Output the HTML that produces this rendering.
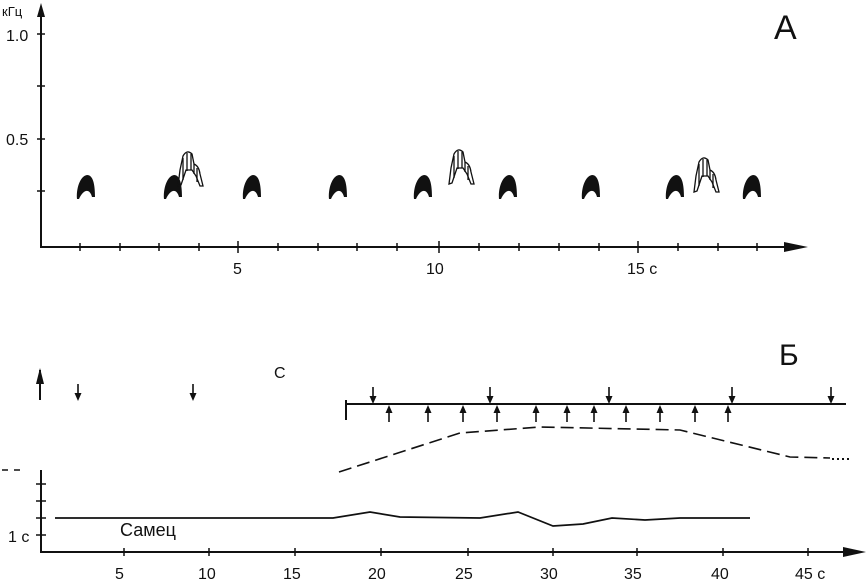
<!DOCTYPE html>
<html><head><meta charset="utf-8"><style>
html,body{margin:0;padding:0;background:#fff;}
svg{display:block;}
text{font-family:"Liberation Sans",sans-serif;fill:#111;}
</style></head><body>
<svg width="867" height="581" viewBox="0 0 867 581" xmlns="http://www.w3.org/2000/svg">
<defs>
<path id="blob" d="M-9,12 C-10,2 -6,-11 1,-12 C7,-12 9,-3 9,10 L6,10 C4,2 -2,1 -7,12 Z" fill="#111"/>
<g id="hatch" fill="none" stroke="#111" stroke-width="1.3">
<path d="M-12,18 L-10,2 L-7,-12 Q-3,-19 2,-14 L4,-4 Q9,-2 10,6 L13,18 L10,18 L6,8 L2,2 L-4,2 L-9,17 Z"/>
<path d="M-7,-10 L-7,12 M-3,-15 L-3,3 M1,-14 L1,2 M4,-4 L4,6 M7,0 L7,14"/>
</g>
<g id="ad"><line x1="0" y1="-17" x2="0" y2="-4" stroke="#111" stroke-width="1.6"/><polygon points="0,0 -3.5,-8 3.5,-8" fill="#111"/></g>
<g id="au"><line x1="0" y1="17" x2="0" y2="4" stroke="#111" stroke-width="1.6"/><polygon points="0,0 -3.5,8 3.5,8" fill="#111"/></g>
</defs>
<!-- Panel A -->
<g stroke="#111" stroke-width="2" fill="none">
<line x1="41" y1="12" x2="41" y2="248"/>
<line x1="40" y1="247" x2="790" y2="247"/>
</g>
<polygon points="41,3 37,17 45,17" fill="#111"/>
<polygon points="808,247 784,242 784,252" fill="#111"/>
<g stroke="#111" stroke-width="1.5">
<line x1="37" y1="34" x2="45" y2="34"/><line x1="37" y1="86" x2="45" y2="86"/>
<line x1="37" y1="139" x2="45" y2="139"/><line x1="37" y1="191" x2="45" y2="191"/>
<line x1="80" y1="243" x2="80" y2="251"/><line x1="120" y1="243" x2="120" y2="251"/>
<line x1="159" y1="243" x2="159" y2="251"/><line x1="199" y1="243" x2="199" y2="251"/>
<line x1="238" y1="241" x2="238" y2="253"/><line x1="278" y1="243" x2="278" y2="251"/>
<line x1="318" y1="243" x2="318" y2="251"/><line x1="357" y1="243" x2="357" y2="251"/>
<line x1="397" y1="243" x2="397" y2="251"/><line x1="439" y1="241" x2="439" y2="253"/>
<line x1="479" y1="243" x2="479" y2="251"/><line x1="519" y1="243" x2="519" y2="251"/>
<line x1="559" y1="243" x2="559" y2="251"/><line x1="599" y1="243" x2="599" y2="251"/>
<line x1="638" y1="241" x2="638" y2="253"/><line x1="678" y1="243" x2="678" y2="251"/>
<line x1="718" y1="243" x2="718" y2="251"/><line x1="757" y1="243" x2="757" y2="251"/>
</g>
<text x="2" y="16" font-size="13">кГц</text>
<text x="6" y="41" font-size="16">1.0</text>
<text x="6" y="145" font-size="16">0.5</text>
<text x="233" y="274" font-size="16">5</text>
<text x="426" y="274" font-size="16">10</text>
<text x="627" y="274" font-size="16">15 с</text>
<text x="774" y="39" font-size="34">А</text>
<use href="#blob" x="86" y="187"/><use href="#blob" x="173" y="187"/>
<use href="#blob" x="252" y="187"/><use href="#blob" x="338" y="187"/>
<use href="#blob" x="423" y="187"/><use href="#blob" x="508" y="187"/>
<use href="#blob" x="591" y="187"/><use href="#blob" x="675" y="187"/>
<use href="#blob" x="752" y="187"/>
<use href="#hatch" x="190" y="168"/><use href="#hatch" x="461" y="166"/><use href="#hatch" x="706" y="174"/>

<!-- Panel B -->
<text x="779" y="365" font-size="30">Б</text>
<g stroke="#111" stroke-width="2" fill="none">
<line x1="41" y1="470" x2="41" y2="553"/>
<line x1="40" y1="552" x2="850" y2="552"/>
<line x1="346" y1="404" x2="846" y2="404"/>
<line x1="346" y1="400" x2="346" y2="420"/>
</g>
<polygon points="866,552 843,547 843,557" fill="#111"/>
<g stroke="#111" stroke-width="1.5">
<line x1="36" y1="484" x2="46" y2="484"/><line x1="36" y1="501" x2="46" y2="501"/>
<line x1="36" y1="518" x2="46" y2="518"/><line x1="36" y1="535" x2="46" y2="535"/>
<line x1="124" y1="548" x2="124" y2="556"/><line x1="209" y1="548" x2="209" y2="556"/>
<line x1="295" y1="548" x2="295" y2="556"/><line x1="381" y1="548" x2="381" y2="556"/>
<line x1="468" y1="548" x2="468" y2="556"/><line x1="553" y1="548" x2="553" y2="556"/>
<line x1="637" y1="548" x2="637" y2="556"/><line x1="723" y1="548" x2="723" y2="556"/>
<line x1="808" y1="548" x2="808" y2="556"/>
</g>
<text x="115" y="579" font-size="16">5</text>
<text x="198" y="579" font-size="16">10</text>
<text x="283" y="579" font-size="16">15</text>
<text x="368" y="579" font-size="16">20</text>
<text x="455" y="579" font-size="16">25</text>
<text x="540" y="579" font-size="16">30</text>
<text x="624" y="579" font-size="16">35</text>
<text x="711" y="579" font-size="16">40</text>
<text x="795" y="579" font-size="16">45 с</text>
<text x="8" y="542" font-size="16">1 с</text>
<text x="120" y="536" font-size="18">Самец</text>
<text x="274" y="378" font-size="16">С</text>
<use href="#ad" x="78" y="401"/><use href="#ad" x="193" y="401"/>
<use href="#ad" x="373" y="404"/><use href="#ad" x="490" y="404"/>
<use href="#ad" x="609" y="404"/><use href="#ad" x="732" y="404"/><use href="#ad" x="831" y="404"/>
<use href="#au" x="389" y="405"/><use href="#au" x="428" y="405"/><use href="#au" x="463" y="405"/>
<use href="#au" x="497" y="405"/><use href="#au" x="536" y="405"/><use href="#au" x="567" y="405"/>
<use href="#au" x="594" y="405"/><use href="#au" x="626" y="405"/><use href="#au" x="660" y="405"/>
<use href="#au" x="695" y="405"/><use href="#au" x="728" y="405"/>
<line x1="40" y1="370" x2="40" y2="400" stroke="#111" stroke-width="2"/>
<polygon points="40,368 36,384 44,384" fill="#111"/>
<polyline points="339,472 460,433 540,427 680,430 790,457 830,458" fill="none" stroke="#111" stroke-width="1.6" stroke-dasharray="13,6"/>
<line x1="832" y1="459" x2="850" y2="459" stroke="#111" stroke-width="2" stroke-dasharray="2,3"/>
<line x1="2" y1="470" x2="25" y2="470" stroke="#111" stroke-width="1.5" stroke-dasharray="6,6"/>
<polyline points="55,518 333,518 370,512 400,517 480,518 518,512 553,526 583,524 612,518 645,520 680,518 750,518" fill="none" stroke="#111" stroke-width="1.7"/>
</svg>
</body></html>
